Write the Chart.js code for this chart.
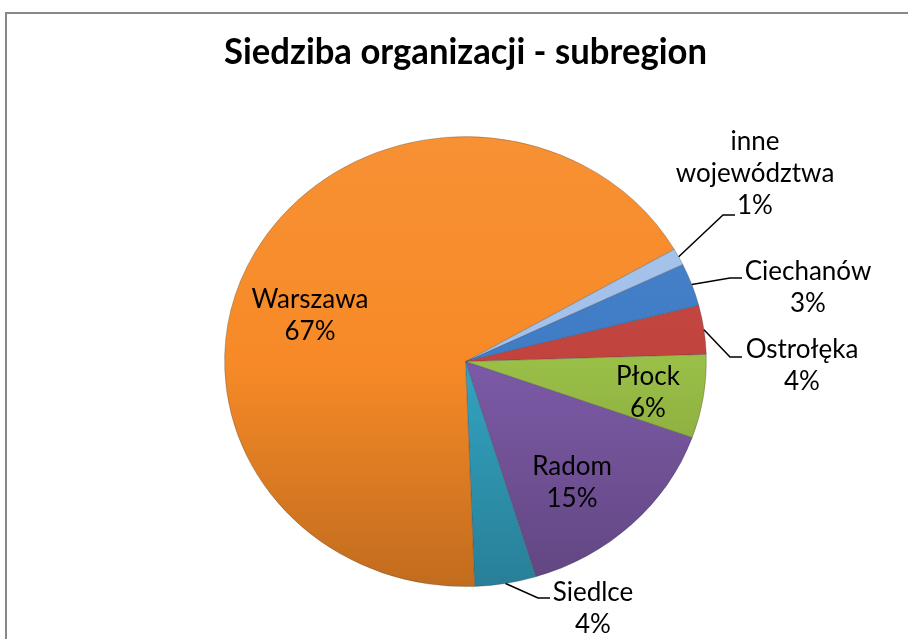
<!DOCTYPE html>
<html lang="pl">
<head>
  <meta charset="UTF-8">
  <title>Siedziba organizacji - subregion</title>
  <script src="https://cdn.jsdelivr.net/npm/chart.js"></script>
  <style>
    body { margin: 0; background: #fff; }
  </style>
</head>
<body>
<canvas id="pieChart" width="908" height="639"></canvas>

<script>
  // data (share of organisations, %)
  const regions = ['Ciechanów', 'Ostrołęka', 'Płock', 'Radom', 'Siedlce', 'Warszawa', 'inne województwa'];
  const shares = [3.1, 3.5, 6.0, 14.8, 4.1, 67.3, 1.2];
  const sliceColors = ['#3F7CC6', '#C2433E', '#9ABF47', '#7C5AA6', '#33A3C2', '#F78A27', '#A2C0EA'];

  // the original pie is a bit wider than tall
  const SQUASH = 0.934;

  // where the text goes (first line centre) and, for outside labels, the leader end
  const labelSpots = [
    { x: 808, y: 272, leader: { x: 742, y: 278 } },
    { x: 802, y: 350, leader: { x: 742, y: 357 } },
    { x: 648, y: 377 },
    { x: 572, y: 467 },
    { x: 593, y: 593, leader: { x: 550, y: 598 } },
    { x: 310, y: 300 },
    { x: 755, y: 142, leader: { x: 735, y: 215 } }
  ];

  function shade(hex, f) {
    const n = parseInt(hex.slice(1), 16);
    let rgb = [n >> 16, (n >> 8) & 255, n & 255];
    rgb = rgb.map(c => f >= 0 ? Math.round(c + (255 - c) * f) : Math.round(c * (1 + f)));
    return `rgb(${rgb[0]},${rgb[1]},${rgb[2]})`;
  }

  const ellipse = {
    id: 'ellipse',
    beforeDatasetsDraw(chart) {
      const a = chart.getDatasetMeta(0).data[0];
      const ctx = chart.ctx;
      ctx.save();
      ctx.translate(a.x, a.y);
      ctx.scale(1, SQUASH);
      ctx.translate(-a.x, -a.y);
    },
    afterDatasetsDraw(chart) {
      chart.ctx.restore();
    }
  };

  const frame = {
    id: 'frame',
    beforeDraw(chart) {
      const ctx = chart.ctx;
      ctx.save();
      ctx.strokeStyle = '#888';
      ctx.lineWidth = 2;
      ctx.beginPath();
      ctx.moveTo(6, 639);
      ctx.lineTo(6, 13);
      ctx.lineTo(908, 13);
      ctx.stroke();
      ctx.restore();
    }
  };

  const sliceLabels = {
    id: 'sliceLabels',
    afterDraw(chart) {
      const ctx = chart.ctx;
      const arcs = chart.getDatasetMeta(0).data;
      ctx.save();
      ctx.fillStyle = '#000';
      ctx.textAlign = 'center';
      ctx.textBaseline = 'middle';
      ctx.font = '26px Lato';
      arcs.forEach((arc, i) => {
        const spot = labelSpots[i];
        const lines = regions[i] === 'inne województwa' ? ['inne', 'województwa'] : [regions[i]];
        lines.push(Math.round(shares[i]) + '%');
        lines.forEach((t, k) => ctx.fillText(t, spot.x, spot.y + k * 32));
        if (spot.leader) {
          const mid = (arc.startAngle + arc.endAngle) / 2;
          const sx = arc.x + arc.outerRadius * Math.cos(mid);
          const sy = arc.y + arc.outerRadius * SQUASH * Math.sin(mid);
          ctx.strokeStyle = '#000';
          ctx.lineWidth = 1.5;
          ctx.beginPath();
          ctx.moveTo(sx, sy);
          ctx.lineTo(spot.leader.x - 12, spot.leader.y);
          ctx.lineTo(spot.leader.x, spot.leader.y);
          ctx.stroke();
        }
      });
      ctx.restore();
    }
  };

  const ctx = document.getElementById('pieChart').getContext('2d');
  new Chart(ctx, {
    type: 'pie',
    data: {
      labels: regions,
      datasets: [{
        data: shares,
        backgroundColor: c => {
          const base = sliceColors[c.dataIndex];
          const area = c.chart.chartArea;
          if (!area) return base;
          const g = c.chart.ctx.createLinearGradient(0, area.top, 0, area.bottom);
          g.addColorStop(0, shade(base, 0.06));
          g.addColorStop(0.5, base);
          g.addColorStop(1, shade(base, -0.22));
          return g;
        },
        borderColor: 'rgba(60,60,60,0.3)',
        borderWidth: 1,
        clip: false
      }]
    },
    options: {
      responsive: false,
      animation: false,
      rotation: 64.4,
      layout: { padding: { left: 224, right: 201, top: 0, bottom: 36 } },
      plugins: {
        legend: { display: false },
        tooltip: { enabled: false },
        title: {
          display: true,
          text: 'Siedziba organizacji - subregion',
          color: '#000',
          font: { family: 'Lato', size: 36, weight: 'bold', lineHeight: 1.2 },
          padding: { top: 31, bottom: 46 },
          position: 'top'
        }
      }
    },
    plugins: [frame, ellipse, sliceLabels]
  });
</script>
</body>
</html>
